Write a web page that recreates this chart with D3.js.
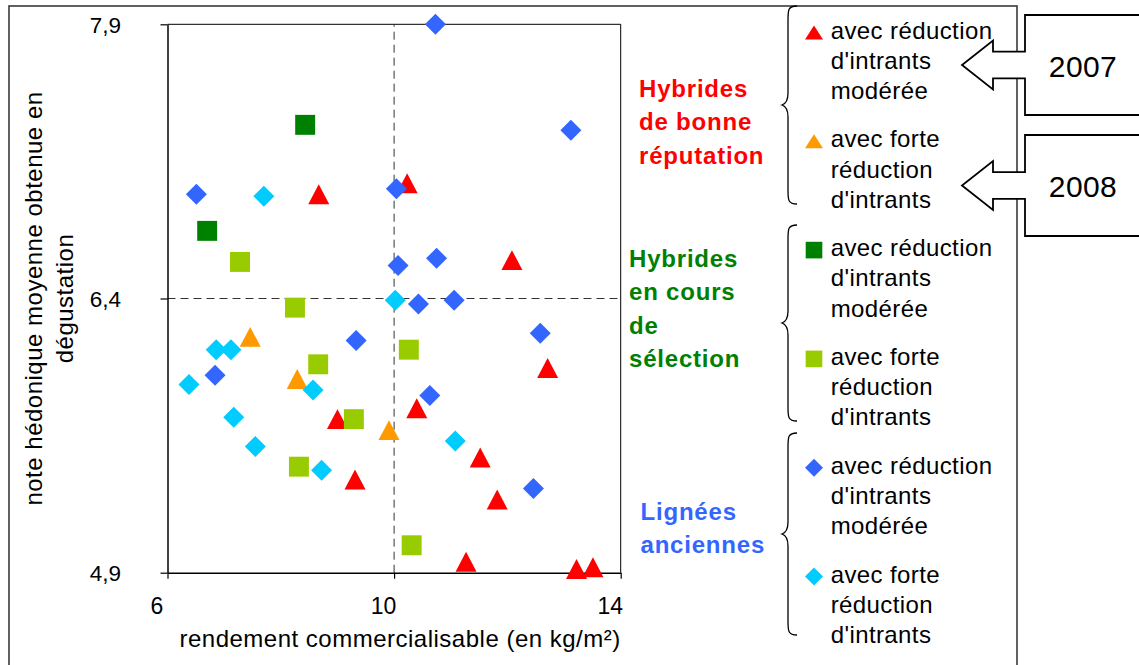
<!DOCTYPE html>
<html>
<head>
<meta charset="utf-8">
<script src="https://cdn.jsdelivr.net/npm/d3@7"></script>
<style>
  body { margin: 0; background: #fff; }
  svg { display: block; }
  text { font-family: "Liberation Sans", Arial, sans-serif; }
</style>
</head>
<body>
<svg id="chart" width="1139" height="665"></svg>
<script>
// ---- data: [rendement (kg/m²), note hédonique] ----
const hybBonneModeree = [[8.67,6.97],[10.23,7.03],[12.08,6.61],[12.71,6.02],[10.40,5.80],[9.00,5.74],
                         [11.52,5.53],[9.31,5.41],[11.82,5.30],[11.27,4.96],[13.22,4.92],[13.51,4.93]];
const hybBonneForte = [[7.46,6.19],[8.29,5.96],[9.91,5.68]];
const hybSelectionModeree = [[8.43,7.35],[6.70,6.77]];
const hybSelectionForte = [[7.28,6.60],[8.25,6.35],[8.66,6.04],[10.26,6.12],[9.29,5.74],[8.32,5.48],[10.31,5.05]];
const ligneesModeree = [[10.73,7.90],[13.12,7.32],[6.51,6.97],[10.04,7.00],[10.07,6.58],[10.75,6.62],[10.43,6.37],
                        [11.06,6.39],[12.58,6.21],[9.33,6.17],[6.84,5.98],[10.63,5.87],[12.46,5.36]];
const ligneesForte = [[7.70,6.96],[10.02,6.39],[6.86,6.12],[7.12,6.12],[6.38,5.93],[8.57,5.90],
                      [7.17,5.75],[7.55,5.59],[8.72,5.46],[11.08,5.62]];

const xDomain = [6, 14];
const yDomain = [4.9, 7.9];
const xTicks = [6, 10, 14];
const xTickLabels = ["6", "10", "14"];
const yTicks = [4.9, 6.4, 7.9];
const yTickLabels = ["4,9", "6,4", "7,9"];
const xReference = 10;
const yReference = 6.4;

const xTitle = "rendement commercialisable (en kg/m²)";
const yTitleLines = ["note hédonique moyenne obtenue en", "dégustation"];

const groupNames = [
  ["Hybrides", "de bonne", "réputation"],
  ["Hybrides", "en cours", "de", "sélection"],
  ["Lignées", "anciennes"]
];
const legendTexts = [
  ["avec réduction", "d'intrants", "modérée"],
  ["avec forte", "réduction", "d'intrants"],
  ["avec réduction", "d'intrants", "modérée"],
  ["avec forte", "réduction", "d'intrants"],
  ["avec réduction", "d'intrants", "modérée"],
  ["avec forte", "réduction", "d'intrants"]
];
const yearLabels = ["2007", "2008"];

// ---- series styling (drawing order = legend order) ----
const series = [
  { data: hybBonneModeree,     color: "#FF0000", shape: "triangle" },
  { data: hybBonneForte,       color: "#FF9900", shape: "triangle" },
  { data: hybSelectionModeree, color: "#008000", shape: "square" },
  { data: hybSelectionForte,   color: "#99CC00", shape: "square" },
  { data: ligneesModeree,      color: "#3366FF", shape: "diamond" },
  { data: ligneesForte,        color: "#00CCFF", shape: "diamond" }
];
const groupStyles = [
  { color: "#FF0000", x: 639, y: 97 },
  { color: "#008000", x: 629, y: 267 },
  { color: "#3366FF", x: 640.5, y: 520 }
];

// marker outlines, centred on the bounding box
function markerPath(shape, s) {
  const h = s / 2;
  if (shape === "triangle") return `M0,${-h * 0.95}L${h},${h * 0.95}L${-h},${h * 0.95}Z`;
  if (shape === "square") return `M${-h * 0.95},${-h * 0.95}h${s * 0.95}v${s * 0.95}h${-s * 0.95}Z`;
  return `M0,${-h}L${h},0L0,${h}L${-h},0Z`;
}

const svg = d3.select("#chart");

// outer chart border
svg.append("rect")
  .attr("x", 9).attr("y", 6).attr("width", 1008).attr("height", 680)
  .attr("fill", "#fff").attr("stroke", "#3a3a3a").attr("stroke-width", 1.6);

// ---- plot area ----
const x = d3.scaleLinear().domain(xDomain).range([167.5, 620.7]);
const y = d3.scaleLinear().domain(yDomain).range([572.7, 24.3]);

// plot frame (top and right)
svg.append("path")
  .attr("d", `M${x(xDomain[0])},${y(yDomain[1])}H${x(xDomain[1])}V${y(yDomain[0])}`)
  .attr("fill", "none").attr("stroke", "#000").attr("stroke-width", 1);

// reference lines
svg.append("line")
  .attr("x1", x(xReference)).attr("x2", x(xReference))
  .attr("y1", y(yDomain[0])).attr("y2", y(yDomain[1]))
  .attr("stroke", "#333").attr("stroke-width", 1).attr("stroke-dasharray", "8,5");
svg.append("line")
  .attr("x1", x(xDomain[0])).attr("x2", x(xDomain[1]))
  .attr("y1", y(yReference)).attr("y2", y(yReference))
  .attr("stroke", "#333").attr("stroke-width", 1).attr("stroke-dasharray", "8,5");

// axes
const xAxis = d3.axisBottom(x).tickValues(xTicks)
  .tickFormat((d, i) => xTickLabels[i]).tickSize(6).tickSizeOuter(0).tickPadding(18.5);
const gx = svg.append("g").attr("transform", `translate(0,${y(yDomain[0])})`).call(xAxis);
gx.selectAll("text").attr("dx", -11).attr("font-size", 23).attr("fill", "#000")
  .style("font-family", '"Liberation Sans", Arial, sans-serif');

const yAxis = d3.axisLeft(y).tickValues(yTicks)
  .tickFormat((d, i) => yTickLabels[i]).tickSize(7).tickSizeOuter(0).tickPadding(39.5);
const gy = svg.append("g").attr("transform", `translate(${x(xDomain[0])},0)`).call(yAxis);
gy.selectAll("text").attr("font-size", 22.5).attr("fill", "#000").attr("dy", "0.36em")
  .style("font-family", '"Liberation Sans", Arial, sans-serif');

[gx, gy].forEach(g => {
  g.select(".domain").attr("stroke", "#000").attr("stroke-width", 1.5);
  g.selectAll(".tick line").attr("stroke", "#000").attr("stroke-width", 1.2);
});

// axis titles
svg.append("text")
  .attr("x", (x(xDomain[0]) + x(xDomain[1])) / 2 + 6).attr("y", 647)
  .attr("text-anchor", "middle").attr("font-size", 24).attr("letter-spacing", 0.5)
  .text(xTitle);

const yt = svg.append("g")
  .attr("transform", `translate(0,${(y(yDomain[0]) + y(yDomain[1])) / 2}) rotate(-90)`);
yTitleLines.forEach((line, i) => {
  yt.append("text")
    .attr("x", 0).attr("y", 42 + i * 31)
    .attr("text-anchor", "middle").attr("font-size", 24).attr("letter-spacing", 0.5)
    .text(line);
});

// data points
series.forEach(s => {
  svg.append("g").selectAll("path")
    .data(s.data)
    .join("path")
    .attr("transform", d => `translate(${x(d[0])},${y(d[1])})`)
    .attr("d", markerPath(s.shape, 21))
    .attr("fill", s.color);
});

// ---- group labels ----
groupNames.forEach((lines, g) => {
  const st = groupStyles[g];
  lines.forEach((line, i) => {
    svg.append("text")
      .attr("x", st.x).attr("y", st.y + i * 33.3)
      .attr("font-size", 24).attr("font-weight", "bold").attr("letter-spacing", 0.8)
      .attr("fill", st.color)
      .text(line);
  });
});

// ---- legend ----
const legendX = 830.7, legendY0 = 38.5, legendStep = 108.8, lineStep = 30.2;
legendTexts.forEach((lines, k) => {
  const base = legendY0 + k * legendStep;
  const s = series[k];
  svg.append("path")
    .attr("transform", `translate(814,${base - 6})`)
    .attr("d", s.shape === "triangle"
      ? "M0,-7L9,7L-9,7Z"
      : markerPath(s.shape, s.shape === "square" ? 17.5 : 18))
    .attr("fill", s.color);
  lines.forEach((line, i) => {
    svg.append("text")
      .attr("x", legendX).attr("y", base + i * lineStep)
      .attr("font-size", 24).attr("letter-spacing", 0.4)
      .text(line);
  });
});

// curly braces grouping the legend entries
function bracePath(xTip, y0, y1) {
  const xm = xTip + 6, xe = xTip + 15, ym = (y0 + y1) / 2;
  return `M${xe},${y0} C${xm},${y0} ${xm},${y0 + 4} ${xm},${y0 + 14}` +
         ` L${xm},${ym - 12} C${xm},${ym - 4} ${xTip + 3},${ym - 1} ${xTip},${ym}` +
         ` C${xTip + 3},${ym + 1} ${xm},${ym + 4} ${xm},${ym + 12}` +
         ` L${xm},${y1 - 14} C${xm},${y1 - 4} ${xm},${y1} ${xe},${y1}`;
}
const braceSpans = [[6, 204], [225, 421], [433, 635]];
braceSpans.forEach(([a, b]) => {
  svg.append("path").attr("d", bracePath(782, a, b))
    .attr("fill", "none").attr("stroke", "#000").attr("stroke-width", 1.3);
});

// ---- year callouts (box with left-pointing arrow) ----
function calloutPath(top, bottom) {
  const cy = (top + bottom) / 2, bx = 1025, right = 1160;
  const tip = 962, back = 993, head = 24.5, shaft = 13.3;
  return `M${bx},${top}H${right}V${bottom}H${bx}V${cy + shaft}H${back}V${cy + head}` +
         `L${tip},${cy}L${back},${cy - head}V${cy - shaft}H${bx}Z`;
}
const calloutSpans = [[15, 115], [135, 236]];
calloutSpans.forEach(([a, b], i) => {
  svg.append("path").attr("d", calloutPath(a, b))
    .attr("fill", "#fff").attr("stroke", "#000").attr("stroke-width", 1.8);
  svg.append("text")
    .attr("x", 1083).attr("y", (a + b) / 2 + 11.5)
    .attr("text-anchor", "middle").attr("font-size", 30).attr("letter-spacing", 0.4)
    .text(yearLabels[i]);
});
</script>
</body>
</html>
